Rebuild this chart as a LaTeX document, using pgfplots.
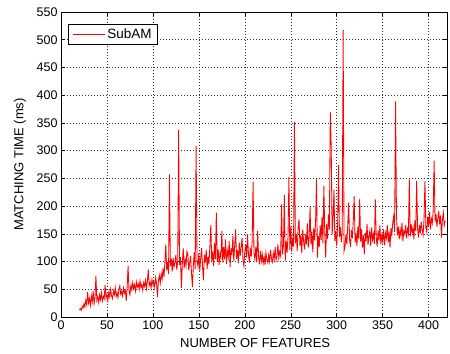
\documentclass[border=0pt]{standalone}
\usepackage{fontspec}
\setmainfont{Liberation Sans}
\usepackage{pgfplots}
\pgfplotsset{compat=1.18}
\begin{document}
\begin{tikzpicture}
\begin{axis}[
  scale only axis,
  width=386pt, height=305pt,
  xmin=0, xmax=420, ymin=0, ymax=550,
  xtick={0,50,...,400}, ytick={0,50,...,550},
  /pgf/number format/assume math mode=true,
  tick label style={font=\fontsize{12.5}{14}\selectfont},
  label style={font=\fontsize{13}{15}\selectfont},
  xlabel={NUMBER OF FEATURES},
  ylabel={MATCHING TIME (ms)},
  xlabel style={at={(axis description cs:0.503,-0.085)}, anchor=center},
  ylabel style={at={(axis description cs:-0.106,0.5)}, anchor=center},
  grid=major,
  major grid style={black!80, dash pattern=on 0.6pt off 2.4pt, line width=0.5pt},
  tick align=inside,
  major tick length=4pt,
  axis line style={black, line width=0.7pt},
  every tick/.style={black, line width=0.5pt},
  legend style={at={(axis description cs:0.018,0.961)}, anchor=north west,
    font=\fontsize{13.5}{15}\selectfont, draw=black, line width=1pt,
    inner xsep=4pt, inner ysep=2.5pt},
  legend image code/.code={\draw[#1, line width=0.9pt] (0pt,0pt) -- (32pt,0pt);},
]
\addplot[red, line width=0.85pt] table[row sep=\\] {
x y\\
20 13\\ 21 15\\ 22 12\\ 23 19\\ 24 16\\ 25 24\\ 26 18\\ 27 30\\ 28 22\\ 29 45\\
30 25\\ 31 33\\ 32 21\\ 33 38\\ 34 27\\ 35 47\\ 36 24\\ 37 35\\ 38 74\\ 39 30\\
40 36\\ 41 26\\ 42 40\\ 43 31\\ 44 44\\ 45 29\\ 46 37\\ 47 33\\ 48 58\\ 49 34\\
50 41\\ 51 30\\ 52 45\\ 53 36\\ 54 50\\ 55 38\\ 56 33\\ 57 47\\ 58 40\\ 59 53\\
60 37\\ 61 44\\ 62 35\\ 63 49\\ 64 56\\ 65 41\\ 66 46\\ 67 38\\ 68 52\\ 69 43\\
70 48\\ 71 29\\ 72 55\\ 73 92\\ 74 47\\ 75 40\\ 76 57\\ 77 49\\ 78 62\\ 79 51\\
80 58\\ 81 47\\ 82 63\\ 83 54\\ 84 60\\ 85 50\\ 86 65\\ 87 53\\ 88 59\\ 89 48\\
90 62\\ 91 55\\ 92 66\\ 93 51\\ 94 64\\ 95 86\\ 96 57\\ 97 63\\ 98 52\\ 99 68\\
100 58\\ 101 64\\ 102 54\\ 103 71\\ 104 60\\ 105 36\\ 106 66\\ 107 75\\ 108 61\\ 109 78\\
110 68\\ 111 88\\ 112 72\\ 113 96\\ 114 131\\ 115 84\\ 116 99\\ 117 78\\ 118 257\\ 119 92\\
120 105\\ 121 82\\ 122 107\\ 123 90\\ 124 98\\ 125 112\\ 126 85\\ 127 101\\ 128 337\\ 129 94\\
130 108\\ 131 52\\ 132 96\\ 133 124\\ 134 88\\ 135 104\\ 136 92\\ 137 118\\ 138 113\\ 139 84\\
140 98\\ 141 110\\ 142 79\\ 143 54\\ 144 93\\ 145 117\\ 146 86\\ 147 308\\ 148 102\\ 149 91\\
150 115\\ 151 83\\ 152 106\\ 153 124\\ 154 90\\ 155 66\\ 156 112\\ 157 98\\ 158 121\\ 159 87\\
160 109\\ 161 95\\ 162 128\\ 163 166\\ 164 101\\ 165 118\\ 166 92\\ 167 134\\ 168 105\\ 169 188\\
170 99\\ 171 122\\ 172 94\\ 173 115\\ 174 107\\ 175 155\\ 176 98\\ 177 126\\ 178 104\\ 179 140\\
180 96\\ 181 119\\ 182 108\\ 183 137\\ 184 90\\ 185 124\\ 186 112\\ 187 146\\ 188 101\\ 189 129\\
190 158\\ 191 105\\ 192 121\\ 193 97\\ 194 134\\ 195 110\\ 196 126\\ 197 143\\ 198 103\\ 199 92\\
200 118\\ 201 131\\ 202 107\\ 203 149\\ 204 112\\ 205 98\\ 206 125\\ 207 109\\ 208 136\\ 209 243\\
210 114\\ 211 104\\ 212 127\\ 213 99\\ 214 155\\ 215 108\\ 216 95\\ 217 119\\ 218 101\\ 219 113\\
220 97\\ 221 109\\ 222 94\\ 223 116\\ 224 103\\ 225 98\\ 226 112\\ 227 100\\ 228 121\\ 229 105\\
230 99\\ 231 115\\ 232 104\\ 233 126\\ 234 102\\ 235 110\\ 236 131\\ 237 106\\ 238 118\\ 239 110\\
240 203\\ 241 113\\ 242 128\\ 243 220\\ 244 101\\ 245 137\\ 246 116\\ 247 145\\ 248 252\\ 249 121\\
250 164\\ 251 118\\ 252 139\\ 253 127\\ 254 352\\ 255 133\\ 256 150\\ 257 119\\ 258 162\\ 259 176\\
260 128\\ 261 147\\ 262 115\\ 263 158\\ 264 136\\ 265 122\\ 266 149\\ 267 131\\ 268 169\\ 269 125\\
270 143\\ 271 198\\ 272 130\\ 273 154\\ 274 117\\ 275 161\\ 276 138\\ 277 172\\ 278 248\\ 279 107\\
280 146\\ 281 126\\ 282 165\\ 283 139\\ 284 181\\ 285 133\\ 286 236\\ 287 152\\ 288 107\\ 289 167\\
290 141\\ 291 185\\ 292 158\\ 293 370\\ 294 308\\ 295 149\\ 296 176\\ 297 230\\ 298 137\\ 299 155\\
300 128\\ 301 169\\ 302 274\\ 303 144\\ 304 162\\ 305 135\\ 306 153\\ 307 518\\ 308 119\\ 309 127\\
310 148\\ 311 131\\ 312 165\\ 313 206\\ 314 139\\ 315 126\\ 316 157\\ 317 142\\ 318 173\\ 319 218\\
320 134\\ 321 151\\ 322 128\\ 323 163\\ 324 140\\ 325 213\\ 326 136\\ 327 158\\ 328 125\\ 329 147\\
330 113\\ 331 152\\ 332 137\\ 333 168\\ 334 130\\ 335 145\\ 336 155\\ 337 128\\ 338 161\\ 339 139\\
340 149\\ 341 132\\ 342 212\\ 343 143\\ 344 127\\ 345 156\\ 346 138\\ 347 165\\ 348 131\\ 349 147\\
350 136\\ 351 158\\ 352 129\\ 353 151\\ 354 142\\ 355 166\\ 356 134\\ 357 154\\ 358 125\\ 359 160\\
360 148\\ 361 171\\ 362 182\\ 363 153\\ 364 389\\ 365 185\\ 366 147\\ 367 163\\ 368 140\\ 369 158\\
370 146\\ 371 170\\ 372 137\\ 373 155\\ 374 149\\ 375 166\\ 376 142\\ 377 159\\ 378 151\\ 379 248\\
380 145\\ 381 168\\ 382 152\\ 383 161\\ 384 140\\ 385 174\\ 386 155\\ 387 245\\ 388 158\\ 389 143\\
390 166\\ 391 151\\ 392 172\\ 393 157\\ 394 148\\ 395 176\\ 396 245\\ 397 161\\ 398 153\\ 399 181\\
400 164\\ 401 189\\ 402 158\\ 403 177\\ 404 169\\ 405 192\\ 406 282\\ 407 172\\ 408 186\\ 409 163\\
410 178\\ 411 191\\ 412 167\\ 413 183\\ 414 143\\ 415 176\\ 416 188\\ 417 165\\ 418 173\\
};
\addlegendentry{SubAM}
\end{axis}
\pgfresetboundingbox
\path ([xshift=-61pt,yshift=-37pt]current axis.south west) rectangle ([xshift=3pt,yshift=12pt]current axis.north east);
\end{tikzpicture}
\end{document}
